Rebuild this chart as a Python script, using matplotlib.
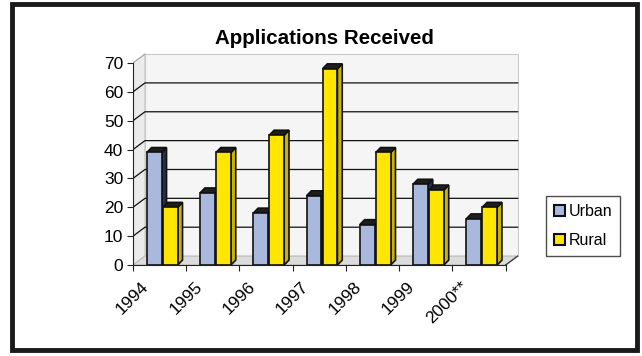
import matplotlib
matplotlib.use("Agg")
import matplotlib.pyplot as plt
from matplotlib.patches import Polygon, Rectangle, Patch

years = ["1994", "1995", "1996", "1997", "1998", "1999", "2000**"]
urban = [39, 25, 18, 24, 14, 28, 16]
rural = [20, 39, 45, 68, 39, 26, 20]
yticks = [0, 10, 20, 30, 40, 50, 60, 70]

plt.rcParams['font.family'] = ['Liberation Sans', 'DejaVu Sans']

fig = plt.figure(figsize=(6.42, 3.56), dpi=100)
fig.patch.set_facecolor('white')

# outer frame
fig.add_artist(Rectangle((12/642, 1-350/356), (637-12)/642, (350-4)/356,
                         transform=fig.transFigure, fill=False, edgecolor='#1a1a1a', lw=3.5))

ax = fig.add_axes([133/642, 1-265/356, (519-133)/642, (265-52.9)/356])
n = len(years)
ax.set_xlim(0, n + 0.25)
ax.set_ylim(0, 73.5)
ax.set_facecolor('none')

# 3D wall offsets
dxw, dyw = 0.225, 3.1
ymax = 70
# back wall
ax.add_patch(Polygon([(dxw, dyw), (n + dxw, dyw), (n + dxw, ymax + dyw), (dxw, ymax + dyw)],
                     closed=True, facecolor='#f5f5f5', edgecolor='#c8c8c8', lw=0.8, zorder=1))
# left wall
ax.add_patch(Polygon([(0, 0), (dxw, dyw), (dxw, ymax + dyw), (0, ymax)],
                     closed=True, facecolor='#ebebeb', edgecolor='#c8c8c8', lw=0.8, zorder=1))
# floor
ax.add_patch(Polygon([(0, 0), (n, 0), (n + dxw, dyw), (dxw, dyw)],
                     closed=True, facecolor='#dcdcdc', edgecolor='#bcbcbc', lw=0.8, zorder=1))
ax.plot([n, n + dxw], [0, dyw], color='#333333', lw=0.9, zorder=2)
# gridlines
for v in yticks[1:-1]:
    ax.plot([0, dxw, n + dxw], [v, v + dyw, v + dyw], color='#111111', lw=0.9, zorder=2)
ax.plot([0, dxw], [ymax, ymax + dyw], color='#aaaaaa', lw=0.8, zorder=2)

# bars
bw = 0.28
dxb, dyb = 0.09, 1.7
def bar3d(x0, v, front, side):
    ax.add_patch(Polygon([(x0 + bw, 0), (x0 + bw + dxb, dyb), (x0 + bw + dxb, v + dyb), (x0 + bw, v)],
                         closed=True, facecolor=side, edgecolor='#111111', lw=1.2, zorder=3))
    ax.add_patch(Polygon([(x0, v), (x0 + bw, v), (x0 + bw + dxb, v + dyb), (x0 + dxb, v + dyb)],
                         closed=True, facecolor='#1e1e1e', edgecolor='#111111', lw=1.2, zorder=3))
    ax.add_patch(Rectangle((x0, 0), bw, v, facecolor=front, edgecolor='#111111', lw=1.2, zorder=3))

for i in range(n):
    bar3d(i + 0.26, urban[i], '#a9b9dd', '#27304a')
    bar3d(i + 0.56, rural[i], '#ffe600', '#c9b400')

# axes styling
for s in ['top', 'right']:
    ax.spines[s].set_visible(False)
ax.spines['left'].set_bounds(0, 70)
ax.spines['bottom'].set_bounds(0, n)
for s in ['left', 'bottom']:
    ax.spines[s].set_color('#222222')
    ax.spines[s].set_zorder(4)
ax.set_yticks(yticks)
ax.set_yticklabels([str(v) for v in yticks], fontsize=12.5)
ax.set_xticks(range(n + 1))
ax.set_xticklabels([])
ax.set_xticks([i + 0.15 for i in range(n)], minor=True)
ax.set_xticklabels(years, minor=True, rotation=45, ha='right', rotation_mode='anchor', fontsize=12.5)
ax.tick_params(axis='x', which='minor', length=0, pad=10)
ax.tick_params(axis='x', which='major', length=4, direction='out', color='#222222')
ax.tick_params(axis='y', length=4, direction='out', color='#222222', pad=3)

fig.text(324/642, 1-38/356, "Applications Received", ha='center', va='center',
         fontsize=14.8, fontweight='bold')

# legend
handles = [Patch(facecolor='#a9b9dd', edgecolor='#111111', lw=1.5, label='Urban'),
           Patch(facecolor='#ffe600', edgecolor='#111111', lw=1.5, label='Rural')]
leg = fig.legend(handles=handles, loc='center', bbox_to_anchor=(583/642, 1-226/356),
                 fontsize=11.5, frameon=True, fancybox=False, edgecolor='#222222',
                 handlelength=0.7, handleheight=0.7, handletextpad=0.25, labelspacing=0.9,
                 borderpad=0.5, borderaxespad=0)
leg.get_frame().set_linewidth(1.0)

fig.savefig("out.png", dpi=100)
